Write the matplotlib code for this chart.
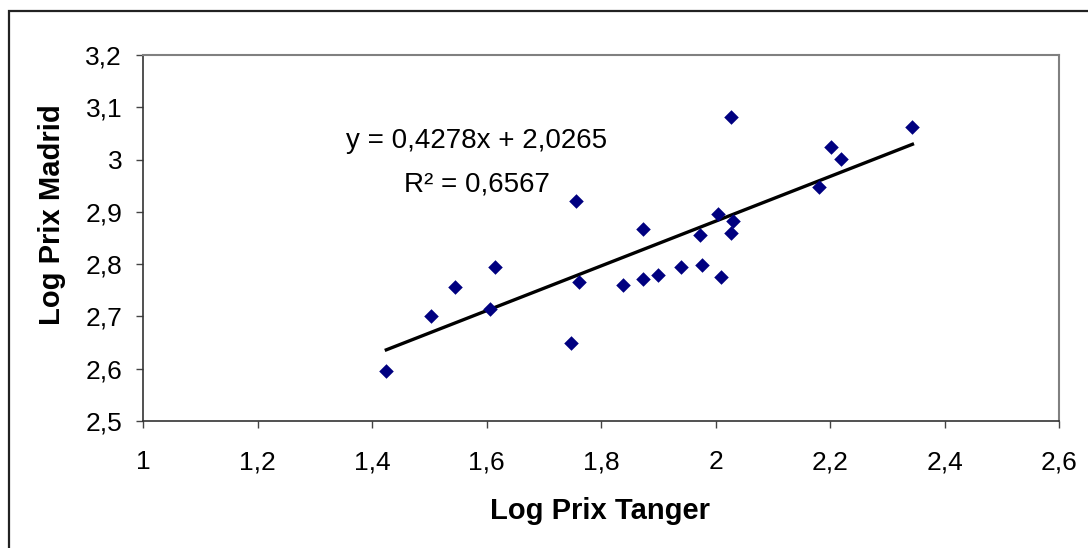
import numpy as np
import matplotlib
matplotlib.use("Agg")
import matplotlib.pyplot as plt
from matplotlib.patches import Rectangle

plt.rcParams['font.family'] = ['Liberation Sans', 'DejaVu Sans']

# data
log_tanger = [1.425, 1.503, 1.545, 1.606, 1.615, 1.747, 1.757, 1.762,
              1.838, 1.873, 1.873, 1.900, 1.940, 1.973, 1.977, 2.005,
              2.009, 2.027, 2.027, 2.030, 2.180, 2.201, 2.219, 2.344]
log_madrid = [2.596, 2.700, 2.757, 2.715, 2.794, 2.650, 2.921, 2.765,
              2.760, 2.867, 2.772, 2.779, 2.795, 2.856, 2.798, 2.895,
              2.775, 3.081, 2.860, 2.883, 2.948, 3.025, 3.002, 3.063]
slope = 0.4278
intercept = 2.0265
r2 = 0.6567

x_ticks = [1.0, 1.2, 1.4, 1.6, 1.8, 2.0, 2.2, 2.4, 2.6]
x_labels = ['1', '1,2', '1,4', '1,6', '1,8', '2', '2,2', '2,4', '2,6']
y_ticks = [2.5, 2.6, 2.7, 2.8, 2.9, 3.0, 3.1, 3.2]
y_labels = ['2,5', '2,6', '2,7', '2,8', '2,9', '3', '3,1', '3,2']

W, H = 1088, 548
fig = plt.figure(figsize=(W / 100, H / 100), dpi=100)
ax = fig.add_axes([143 / W, 1 - 421 / H, (1059 - 143) / W, (421 - 55) / H])

# outer chart border (runs off the right and bottom edge)
fig.patches.append(Rectangle((9 / W, -0.05), 1.1, 1 - 11 / H + 0.05,
                             transform=fig.transFigure, fill=False,
                             edgecolor='#222222', linewidth=1.6))

ax.scatter(log_tanger, log_madrid, marker='D', s=55, color='#000080',
           linewidths=0, zorder=3)

xs = np.array([min(log_tanger), max(log_tanger)])
ax.plot(xs, slope * xs + intercept, color='black', linewidth=2.4, zorder=2)

eq = 'y = %sx + %s' % (('%.4f' % slope).replace('.', ','),
                       ('%.4f' % intercept).replace('.', ','))
ax.text(1.583, 3.022, eq, ha='center', va='baseline', fontsize=20)
ax.text(1.583, 2.938, 'R\u00b2 = ' + ('%.4f' % r2).replace('.', ','),
        ha='center', va='baseline', fontsize=20)

ax.set_xlim(1.0, 2.6)
ax.set_ylim(2.5, 3.2)
ax.set_xticks(x_ticks)
ax.set_xticklabels(x_labels)
ax.set_yticks(y_ticks)
ax.set_yticklabels(y_labels)
ax.tick_params(axis='x', direction='out', length=5, width=1, color='#444444',
               labelsize=19, pad=16)
ax.tick_params(axis='y', direction='out', length=5, width=1, color='#444444',
               labelsize=19, pad=10)

for s in ['top', 'right']:
    ax.spines[s].set_color('#808080')
    ax.spines[s].set_linewidth(1.5)
for s in ['left', 'bottom']:
    ax.spines[s].set_color('#333333')
    ax.spines[s].set_linewidth(1.2)

ax.set_xlabel('Log Prix Tanger', fontsize=21, fontweight='bold')
ax.set_ylabel('Log Prix Madrid', fontsize=21, fontweight='bold')
ax.xaxis.set_label_coords((600 - 143) / (1059 - 143), -(519 - 421) / (421 - 55), transform=ax.transAxes)
ax.xaxis.label.set_va('baseline')
ax.yaxis.set_label_coords(-(143 - 52) / (1059 - 143), (421 - 215) / (421 - 55))
ax.yaxis.label.set_va('center')

fig.savefig('out.png', dpi=100)
